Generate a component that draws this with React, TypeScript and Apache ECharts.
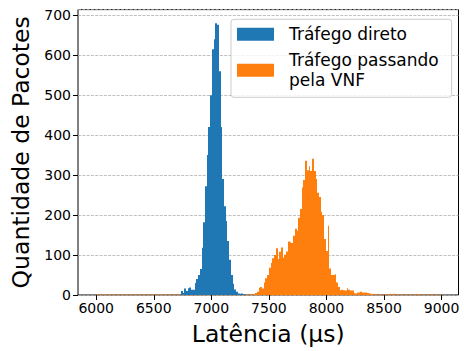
import React, { useEffect, useRef } from 'react';
import * as echarts from 'echarts';

// Histogram bins: width in µs, first bin start for each contiguous block
const BIN_WIDTH = 15;

const directName = 'Tráfego direto';
const vnfName = 'Tráfego passando\npela VNF';

const directFirstBin = 6735;
const directCounts = [
  10, 5, 16, 10, 17, 19, 13, 13, 30, 40, 50, 65, 118, 182, 272, 350, 420, 500,
  615, 640, 680, 676, 560, 420, 290, 222, 185, 135, 88, 50, 28, 14, 8, 4, 3, 4, 2, 1,
];

const vnfFirstBin = 7305;
const vnfCounts = [
  1, 0, 1, 0, 2, 5, 8, 18, 20, 16, 31, 42, 50, 68, 80, 92, 100, 117, 90, 108,
  119, 93, 101, 109, 134, 132, 130, 148, 166, 161, 193, 215, 269, 288, 336, 312,
  322, 310, 341, 310, 290, 256, 245, 208, 200, 140, 110, 173, 66, 50, 50, 52, 31,
  20, 11, 13, 12, 11, 17, 13, 11, 11, 5, 4, 6, 6, 8, 6, 6, 6, 5, 4, 2, 2, 1,
];
const vnfTailStarts = [8445, 8550, 8580, 8775];
const vnfTailCounts = [3, 3, 3, 3];

const vnfRangeLine = [6000, 9000];

const xMin = 5842;
const xMax = 9147;
const yMin = 0;
const yMax = 714;
const yStep = 100;

const BLUE = '#1f77b4';
const ORANGE = '#ff7f0e';
const FONT = 'DejaVu Sans';

function toBins(first: number, counts: number[]) {
  return counts.map((c, i) => [first + i * BIN_WIDTH, c]);
}

function makeRender(color: string) {
  return (params: any, api: any) => {
    const start = api.value(0);
    const count = api.value(1);
    if (!count) return null;
    const p0 = api.coord([start, 0]);
    const p1 = api.coord([start + BIN_WIDTH, count]);
    const x0 = Math.round(p0[0]);
    const x1 = Math.round(p1[0]);
    return {
      type: 'rect',
      shape: { x: x0, y: p1[1], width: Math.max(1, x1 - x0), height: p0[1] - p1[1] },
      style: { fill: color },
    };
  };
}

export default function App() {
  const ref = useRef<HTMLDivElement>(null);
  useEffect(() => {
    if (!ref.current) return;
    const chart = echarts.init(ref.current, null, { renderer: 'svg' });
    const directData = toBins(directFirstBin, directCounts);
    const vnfData = toBins(vnfFirstBin, vnfCounts).concat(
      vnfTailStarts.map((s, i) => [s, vnfTailCounts[i]])
    );
    chart.setOption({
      animation: false,
      textStyle: { fontFamily: FONT, color: '#000' },
      grid: {
        left: 78,
        top: 9.6,
        right: 5.5,
        bottom: 52.5,
        show: true,
        borderColor: '#000',
        borderWidth: 1,
        backgroundColor: 'transparent',
      },
      legend: {
        data: [directName, vnfName],
        orient: 'vertical',
        left: 231,
        top: 19.3,
        itemWidth: 37,
        itemHeight: 13,
        itemGap: 6,
        icon: 'rect',
        padding: [5, 13, 7, 6],
        borderColor: '#cccccc',
        borderWidth: 1,
        borderRadius: 3,
        backgroundColor: 'rgba(255,255,255,0.8)',
        textStyle: {
          fontSize: 17,
          fontFamily: FONT,
          color: '#000',
          lineHeight: 20,
          padding: [0, 0, 0, 10],
        },
      },
      xAxis: {
        type: 'value',
        min: xMin,
        max: xMax,
        name: 'Latência (µs)',
        nameLocation: 'middle',
        nameGap: 27,
        nameTextStyle: { fontSize: 23.5, fontFamily: FONT, color: '#000' },
        axisLine: { show: false },
        axisTick: { show: true, length: 5, lineStyle: { color: '#000', width: 1 } },
        axisLabel: {
          fontSize: 14,
          fontFamily: FONT,
          color: '#000',
          margin: 6,
          showMinLabel: false,
          showMaxLabel: false,
          formatter: (v: number) => String(v),
        },
        splitLine: { show: false },
      },
      yAxis: {
        type: 'value',
        min: yMin,
        max: yMax,
        interval: yStep,
        name: 'Quantidade de Pacotes',
        nameLocation: 'middle',
        nameGap: 44,
        nameTextStyle: { fontSize: 23.5, fontFamily: FONT, color: '#000' },
        axisLine: { show: false },
        axisTick: { show: true, length: 5, lineStyle: { color: '#000', width: 1 } },
        axisLabel: {
          fontSize: 14,
          fontFamily: FONT,
          color: '#000',
          margin: 7,
          showMaxLabel: false,
          formatter: (v: number) => String(v),
        },
        splitLine: {
          show: true,
          lineStyle: { color: '#b0b0b0', width: 0.8, type: [3, 1.3] },
        },
      },
      series: [
        {
          name: vnfName + '_base',
          type: 'line',
          data: vnfRangeLine.map((x) => [x, 0]),
          showSymbol: false,
          silent: true,
          lineStyle: { color: ORANGE, width: 1, opacity: 0.6 },
          z: 1,
        },
        {
          name: directName,
          type: 'custom',
          renderItem: makeRender(BLUE),
          itemStyle: { color: BLUE },
          encode: { x: 0, y: 1 },
          data: directData,
          z: 2,
        },
        {
          name: vnfName,
          type: 'custom',
          renderItem: makeRender(ORANGE),
          itemStyle: { color: ORANGE },
          encode: { x: 0, y: 1 },
          data: vnfData,
          z: 3,
        },
      ],
    });
    return () => chart.dispose();
  }, []);
  return (
    <div
      ref={ref}
      style={{ position: 'absolute', left: 0, top: 0, width: 464, height: 351 }}
    />
  );
}
